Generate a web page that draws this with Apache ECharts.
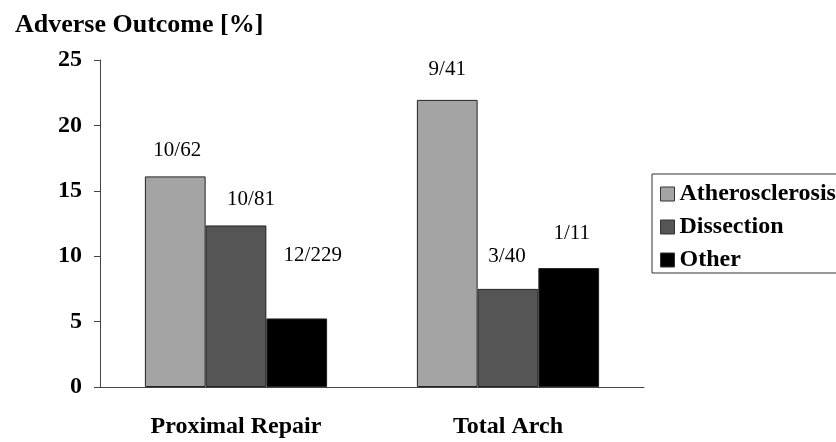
<!DOCTYPE html>
<html>
<head>
<meta charset="utf-8">
<script src="https://cdn.jsdelivr.net/npm/echarts@6/dist/echarts.min.js"></script>
<style>html,body{margin:0;padding:0;background:#fff}#c{width:836px;height:442px}</style>
</head>
<body>
<div id="c"></div>
<script>
var categories = ['Proximal Repair', 'Total Arch'];
var seriesNames = ['Atherosclerosis', 'Dissection', 'Other'];
var atherosclerosis = [16.1, 21.95];
var dissection = [12.35, 7.5];
var other = [5.24, 9.09];
var atheroLabels = ['10/62', '9/41'];
var dissectionLabels = ['10/81', '3/40'];
var otherLabels = ['12/229', '1/11'];
var yTicks = [0, 5, 10, 15, 20, 25];

var serif = '"Liberation Serif", "Times New Roman", serif';
var colors = ['#a4a4a4', '#555555', '#000000'];
// label offsets per bar [dx, dy]
var labelOffsets = [
  [[2, -10], [0, -15]],
  [[15, -10], [-1, -17]],
  [[16, -47], [3, -19]]
];

function mkData(vals, labels, si) {
  return vals.map(function (v, i) {
    return {
      value: v,
      label: { formatter: labels[i], offset: labelOffsets[si][i] }
    };
  });
}

var values = [atherosclerosis, dissection, other];
var labs = [atheroLabels, dissectionLabels, otherLabels];

var chart = echarts.init(document.getElementById('c'), null, { renderer: 'canvas' });
chart.setOption({
  animation: false,
  backgroundColor: '#fff',
  title: {
    text: 'Adverse Outcome [%]',
    left: 10, top: 7,
    textStyle: { fontFamily: serif, fontWeight: 'bold', fontSize: 26, color: '#000' }
  },
  legend: {
    orient: 'vertical',
    left: 652, top: 174,
    data: seriesNames,
    itemWidth: 14, itemHeight: 14,
    itemGap: 9,
    padding: [8, 40, 1, 8],
    borderColor: '#333', borderWidth: 1,
    icon: 'rect',
    textStyle: { fontFamily: serif, fontWeight: 'bold', fontSize: 24, color: '#000', lineHeight: 24 },
    itemStyle: { borderColor: '#333', borderWidth: 1 }
  },
  grid: { left: 100, right: 192, top: 60, bottom: 55, containLabel: false },
  xAxis: {
    type: 'category',
    data: categories,
    axisLine: { lineStyle: { color: '#444', width: 1 } },
    axisTick: { length: 6, lineStyle: { color: '#444' } },
    axisLabel: { fontFamily: serif, fontWeight: 'bold', fontSize: 24, color: '#000', margin: 28 }
  },
  yAxis: {
    type: 'value',
    min: yTicks[0], max: yTicks[yTicks.length - 1], interval: 5,
    axisLine: { show: true, lineStyle: { color: '#444', width: 1 } },
    axisTick: { show: true, length: 6, lineStyle: { color: '#444' } },
    splitLine: { show: false },
    axisLabel: { fontFamily: serif, fontWeight: 'bold', fontSize: 24, color: '#000', margin: 18 }
  },
  series: seriesNames.map(function (n, si) {
    return {
      name: n,
      type: 'bar',
      barGap: '0%',
      barCategoryGap: '33%',
      data: mkData(values[si], labs[si], si),
      itemStyle: { color: colors[si], borderColor: '#222', borderWidth: 1 },
      label: {
        show: true, position: 'top', distance: 5,
        fontFamily: serif, fontSize: 21, color: '#000'
      }
    };
  })
});
</script>
</body>
</html>
